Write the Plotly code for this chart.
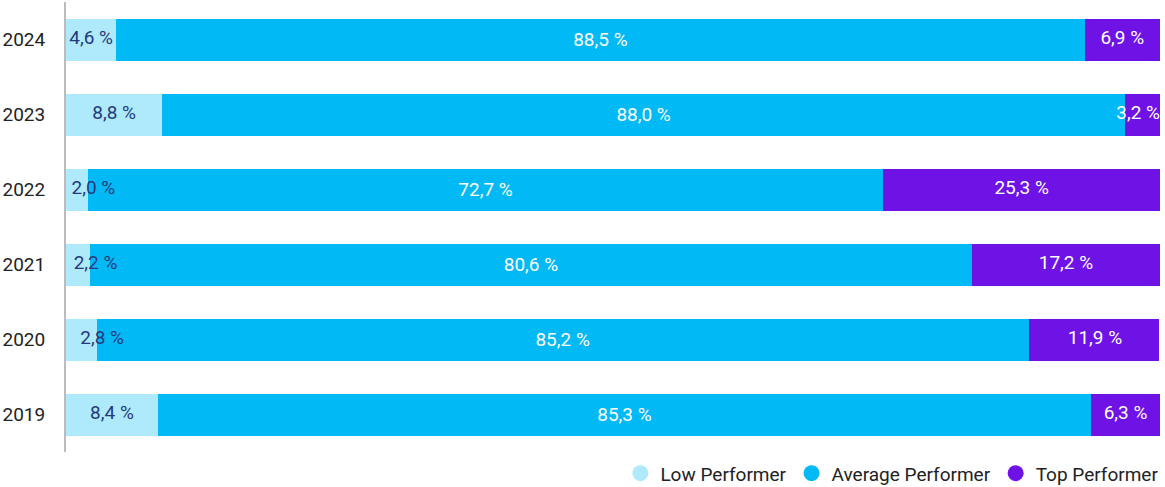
import numpy as np
import plotly.graph_objects as go

years = ["2019", "2020", "2021", "2022", "2023", "2024"]
low = np.array([8.4, 2.8, 2.2, 2.0, 8.8, 4.6])
avg = np.array([85.3, 85.2, 80.6, 72.7, 88.0, 88.5])
top = np.array([6.3, 11.9, 17.2, 25.3, 3.2, 6.9])

series_names = ["Low Performer", "Average Performer", "Top Performer"]
colors = ["#aee9fc", "#00b9f5", "#6f12e6"]
FONT = "Roboto"
FS = 19

def fmt(v):
    return f"{v:.1f}".replace(".", ",") + " %"

fig = go.Figure()
fig.add_trace(go.Bar(y=years, x=low, orientation="h", marker=dict(color=colors[0], line=dict(width=0)),
                     showlegend=False, hoverinfo="skip"))
fig.add_trace(go.Bar(y=years, x=avg, orientation="h", marker=dict(color=colors[1], line=dict(width=0)),
                     text=[fmt(v) for v in avg], textposition="inside", insidetextanchor="middle",
                     textfont=dict(color="white", size=FS, family=FONT),
                     showlegend=False, hoverinfo="skip"))
fig.add_trace(go.Bar(y=years, x=top, orientation="h", marker=dict(color=colors[2], line=dict(width=0)),
                     showlegend=False, hoverinfo="skip"))

# labels for low and top segments
low_x = np.where(low < 4, low + 0.5, low / 2)
fig.add_trace(go.Scatter(y=years, x=low_x, mode="text", text=[fmt(v) for v in low],
                         textposition="middle center",
                         textfont=dict(color="#24397c", size=FS, family=FONT),
                         showlegend=False, hoverinfo="skip", cliponaxis=False))
top_x = np.where(top < 4, 100.0, 100 - top / 2)
fig.add_trace(go.Scatter(y=years, x=top_x, mode="text", text=[fmt(v) for v in top],
                         textposition=["middle left" if t < 4 else "middle center" for t in top],
                         textfont=dict(color="white", size=FS, family=FONT),
                         showlegend=False, hoverinfo="skip", cliponaxis=False))

# legend entries with circle markers
for name, c in zip(series_names, colors):
    fig.add_trace(go.Scatter(x=[None], y=[None], mode="markers", name=name,
                             marker=dict(color=c, size=17, symbol="circle")))

fig.update_layout(
    barmode="stack",
    bargap=0.44,
    width=1165, height=487,
    margin=dict(l=66, r=5, t=2, b=35, autoexpand=False),
    paper_bgcolor="white", plot_bgcolor="white",
    font=dict(family=FONT, size=FS, color="#222222"),
    uniformtext=dict(minsize=FS, mode="show"),
    legend=dict(orientation="h", x=1.004, xanchor="right", yref="container", y=0.028, yanchor="middle",
                traceorder="normal",
                font=dict(size=FS, color="#222222"), itemwidth=30, tracegroupgap=0),
    xaxis=dict(range=[0, 100], showgrid=False, zeroline=False, showticklabels=False, showline=False,
               automargin=False),
    yaxis=dict(categoryorder="array", categoryarray=years, showgrid=False, zeroline=False,
               showline=True, linecolor="#bcbcbc", linewidth=2, ticks="", automargin=False,
               ticklabelstandoff=15, tickfont=dict(size=FS, color="#222222")),
)

fig.write_html("out.html")
